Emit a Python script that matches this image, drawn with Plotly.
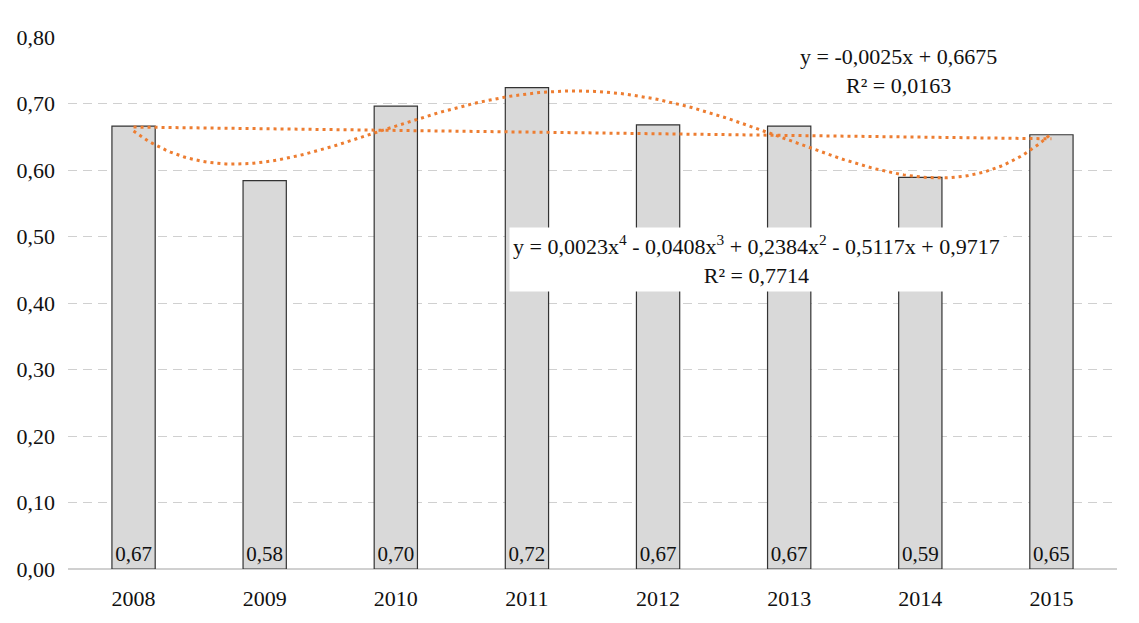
import numpy as np
import plotly.graph_objects as go

# Annual values
years = ["2008", "2009", "2010", "2011", "2012", "2013", "2014", "2015"]
values = [0.666, 0.584, 0.696, 0.724, 0.668, 0.666, 0.589, 0.653]

# Trendline coefficients as printed (highest power first)
linear_coef = [-0.0025, 0.6675]
poly_coef = [0.0023, -0.0408, 0.2384, -0.5117, 0.9717]
linear_r2 = 0.0163
poly_r2 = 0.7714

y_ticks = [0.0, 0.1, 0.2, 0.3, 0.4, 0.5, 0.6, 0.7, 0.8]


def comma(v, d):
    return f"{v:.{d}f}".replace(".", ",")


xs = np.arange(1, len(years) + 1)
x_fine = np.linspace(1, len(years), 200)

# least-squares fits of the series, evaluated on a fine grid
lin_fit = np.polyfit(xs, values, 1)
poly_fit = np.polyfit(xs, values, 4)

FONT = "Liberation Serif, Times New Roman, serif"
ORANGE = "#ED7D31"
SIZE = 22

fig = go.Figure()

fig.add_trace(go.Bar(
    x=xs,
    y=values,
    width=0.33,
    marker=dict(color="#D9D9D9", line=dict(color="#333333", width=1.2)),
    text=[comma(v, 2) for v in values],
    textposition="inside",
    insidetextanchor="start",
    constraintext="none",
    textfont=dict(family=FONT, size=21, color="#111111"),
    showlegend=False,
    hoverinfo="skip",
))

fig.add_trace(go.Scatter(
    x=x_fine,
    y=np.polyval(lin_fit, x_fine),
    mode="lines",
    line=dict(color=ORANGE, width=3, dash="3px,4px"),
    showlegend=False,
    hoverinfo="skip",
))

fig.add_trace(go.Scatter(
    x=x_fine,
    y=np.polyval(poly_fit, x_fine),
    mode="lines",
    line=dict(color=ORANGE, width=3, dash="3px,4px"),
    showlegend=False,
    hoverinfo="skip",
))

lin_text = (f"y = {comma(linear_coef[0], 4)}x + {comma(linear_coef[1], 4)}"
            f"<br>R² = {comma(linear_r2, 4)}")
poly_text = (f"y = {comma(poly_coef[0], 4)}x<sup>4</sup> - {comma(-poly_coef[1], 4)}x<sup>3</sup>"
             f" + {comma(poly_coef[2], 4)}x<sup>2</sup> - {comma(-poly_coef[3], 4)}x"
             f" + {comma(poly_coef[4], 4)}<br>R² = {comma(poly_r2, 4)}")

fig.add_annotation(
    x=6.83, y=0.749, xref="x", yref="y", text=lin_text, showarrow=False,
    font=dict(family=FONT, size=SIZE, color="#111111"), align="center",
)
fig.add_annotation(
    x=5.75, y=0.466, xref="x", yref="y", text=poly_text, showarrow=False,
    font=dict(family=FONT, size=SIZE, color="#111111"), align="center",
    bgcolor="white", borderpad=3,
)

fig.update_layout(
    width=1139, height=623,
    margin=dict(l=68, r=22, t=37, b=52),
    paper_bgcolor="white",
    plot_bgcolor="white",
    bargap=0.67,
    font=dict(family=FONT, size=SIZE, color="#111111"),
    xaxis=dict(
        range=[0.5, 8.5],
        tickmode="array",
        tickvals=list(xs),
        ticktext=years,
        showgrid=False,
        zeroline=False,
        showline=False,
        ticks="",
        ticklabelstandoff=14,
        tickfont=dict(family=FONT, size=SIZE, color="#111111"),
    ),
    yaxis=dict(
        range=[0, 0.8],
        tickmode="array",
        tickvals=y_ticks,
        ticktext=[comma(v, 2) for v in y_ticks],
        showgrid=True,
        gridcolor="#D0D0D0",
        griddash="9px,6px",
        gridwidth=1,
        zeroline=True,
        zerolinecolor="#D0D0D0",
        zerolinewidth=1.5,
        showline=False,
        ticks="",
        ticklabelstandoff=12,
        tickfont=dict(family=FONT, size=SIZE, color="#111111"),
    ),
)

fig.write_html("out.html")
